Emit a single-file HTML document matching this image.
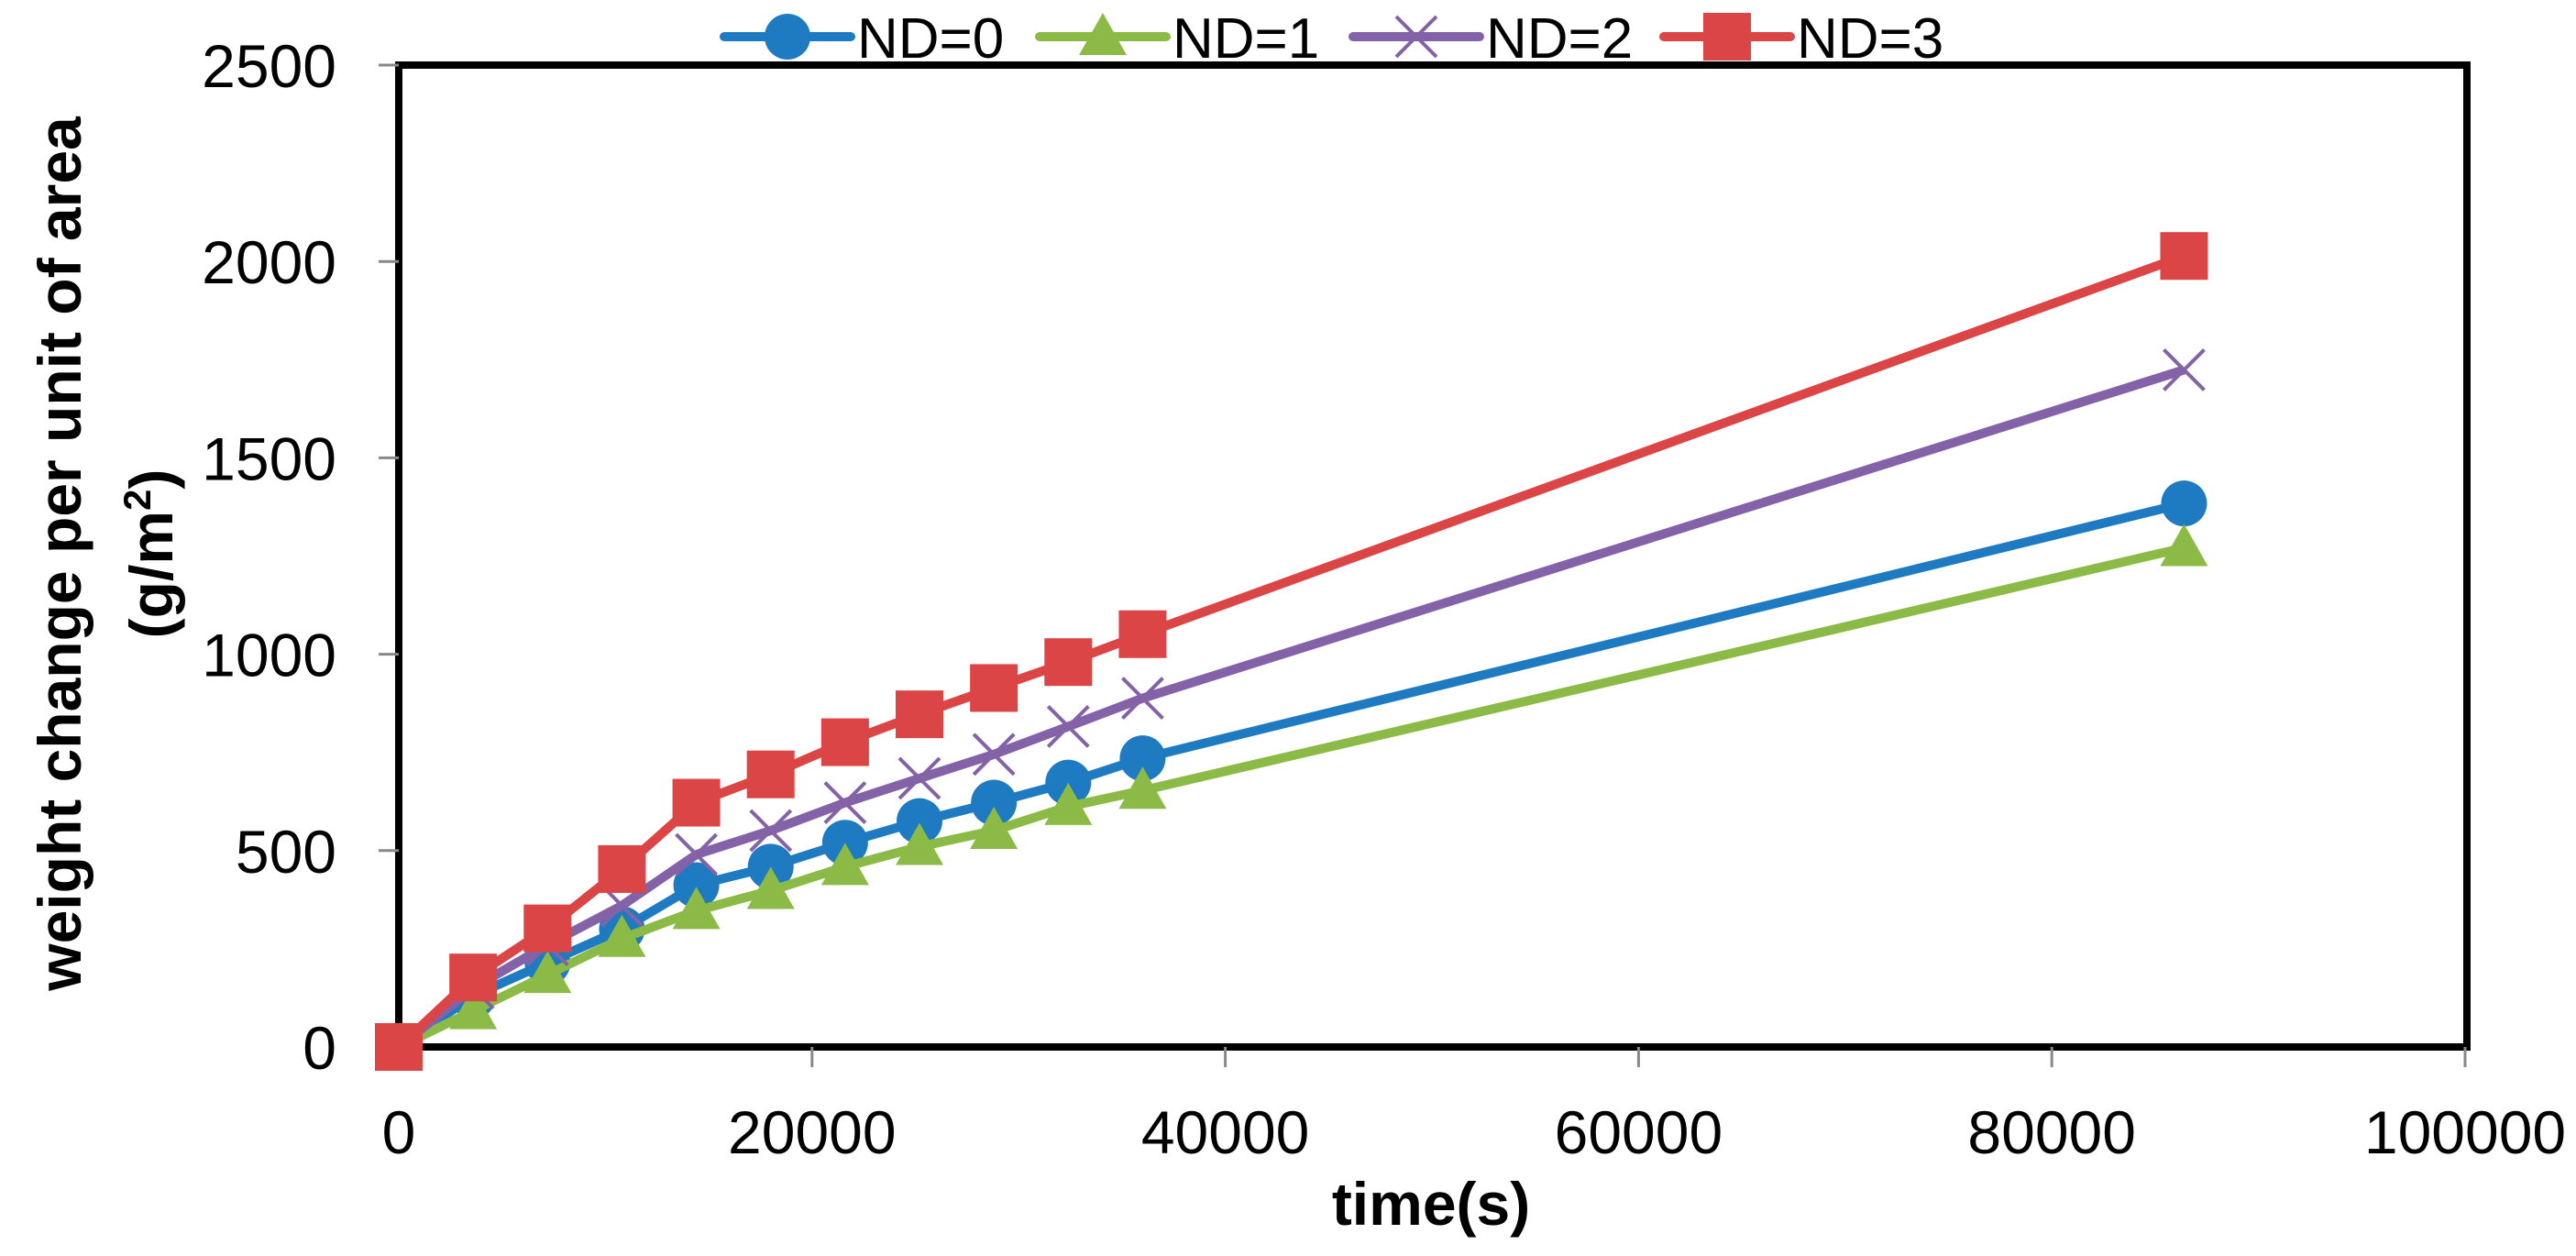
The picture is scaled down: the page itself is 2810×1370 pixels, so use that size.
<!DOCTYPE html>
<html><head><meta charset="utf-8"><style>
html,body{margin:0;padding:0;background:#fff;}
svg{display:block;font-family:"Liberation Sans","DejaVu Sans",sans-serif;}
</style></head><body>
<svg id="chart" width="2810" height="1370" viewBox="0 0 2810 1370" xmlns="http://www.w3.org/2000/svg">
<rect x="435" y="71" width="2256" height="1071" fill="none" stroke="#000" stroke-width="8"/>
<g id="axes"></g>
<g id="series"></g>
<g id="legend"></g>
<text transform="translate(88,604) rotate(-90)" text-anchor="middle" font-size="66" font-weight="bold">weight change per unit of area</text>
<text transform="translate(188,604) rotate(-90)" text-anchor="middle" font-size="66" font-weight="bold">(g/m<tspan font-size="42" dy="-24">2</tspan><tspan dy="24">)</tspan></text>
<text x="1561" y="1336" text-anchor="middle" font-size="66" font-weight="bold">time(s)</text>
</svg>
<script>
const xTicks = [0, 20000, 40000, 60000, 80000, 100000];
const yTicks = [0, 500, 1000, 1500, 2000, 2500];
const times = [0, 3600, 7200, 10800, 14400, 18000, 21600, 25200, 28800, 32400, 36000, 86400];
const nd0 = [0, 130, 215, 300, 412, 459, 520, 575, 622, 673, 735, 1384];
const nd1 = [0, 92, 184, 276, 347, 398, 459, 510, 551, 612, 653, 1271];
const nd2 = [0, 150, 260, 360, 490, 551, 622, 684, 745, 816, 888, 1724];
const nd3 = [0, 177, 302, 453, 622, 694, 776, 847, 914, 980, 1051, 2014];
const seriesNames = ["ND=0", "ND=1", "ND=2", "ND=3"];

const NS = "http://www.w3.org/2000/svg";
const X0 = 435, XW = 2254, Y0 = 1142, YH = 1071;
function xs(v){ return X0 + v / 100000 * XW; }
function ys(v){ return Y0 - v / 2500 * YH; }
function mk(tag, attrs, parent){ const e = document.createElementNS(NS, tag); for (const k in attrs) e.setAttribute(k, attrs[k]); parent.appendChild(e); return e; }

const axes = document.getElementById('axes');
xTicks.forEach(t => {
  const l = mk('line', {x1: xs(t), x2: xs(t), y1: Y0, y2: Y0 + 22, stroke: '#888', 'stroke-width': 3}, axes);
  
  
  const tx = mk('text', {x: xs(t), y: 1258, 'text-anchor': 'middle', 'font-size': 66}, axes);
  tx.textContent = t;
  
  
});
yTicks.forEach(t => {
  const l = mk('line', {x1: X0 - 22, x2: X0, y1: ys(t), y2: ys(t), stroke: '#888', 'stroke-width': 3}, axes);
  
  
  const tx = mk('text', {x: 367, y: ys(t) + 24, 'text-anchor': 'end', 'font-size': 66}, axes);
  tx.textContent = t;
  
  
});

const colors = ['#1f7bc1', '#8bbb46', '#8462a8', '#dc4545'];
const shapes = ['circle', 'triangle', 'cross', 'square'];
function marker(g, shape, cx, cy, c){
  let e;
  if (shape === 'circle') e = mk('circle', {cx, cy, r: 25, fill: c}, g);
  else if (shape === 'triangle') e = mk('polygon', {points: `${cx},${cy-26} ${cx+26},${cy+20} ${cx-26},${cy+20}`, fill: c}, g);
  else if (shape === 'square') e = mk('rect', {x: cx-26, y: cy-26, width: 52, height: 52, fill: c}, g);
  else e = mk('path', {d: `M${cx-22},${cy-22}L${cx+22},${cy+22}M${cx+22},${cy-22}L${cx-22},${cy+22}`, stroke: c, 'stroke-width': 4, fill: 'none'}, g);
  return e;
}
const sg = document.getElementById('series');
[nd0, nd1, nd2, nd3].forEach((vals, i) => {
  const g = mk('g', {}, sg);
  
  
  const p = mk('polyline', {points: vals.map((v, j) => xs(times[j]) + ',' + ys(v)).join(' '), fill: 'none', stroke: colors[i], 'stroke-width': 10, 'stroke-linejoin': 'round'}, g);
  
  
  vals.forEach((v, j) => {
    const m = marker(g, shapes[i], xs(times[j]), ys(v), colors[i]);
    
    
  });
});

const lg = document.getElementById('legend');
const lx = [790, 1134, 1476, 1815];
seriesNames.forEach((n, i) => {
  const g = mk('g', {}, lg);
  
  
  mk('line', {x1: lx[i], x2: lx[i] + 138, y1: 40, y2: 40, stroke: colors[i], 'stroke-width': 10, 'stroke-linecap': 'round'}, g);
  marker(g, shapes[i], lx[i] + 69, 40, colors[i]);
  const t = mk('text', {x: lx[i] + 145, y: 63, 'font-size': 62}, g);
  t.textContent = n;
});
</script>
</body></html>
